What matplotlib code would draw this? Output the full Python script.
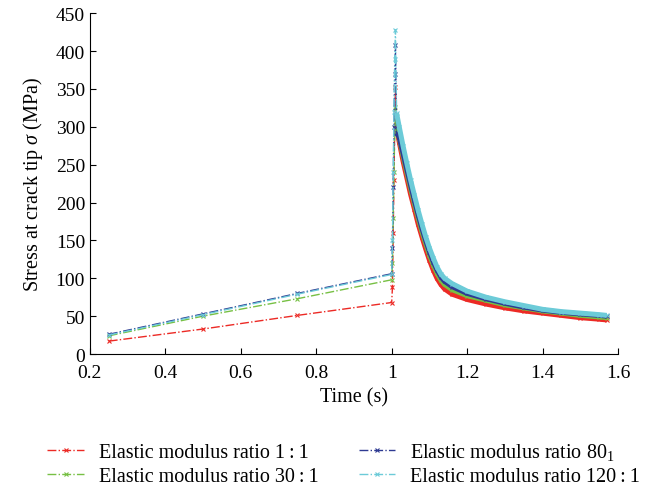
import matplotlib
matplotlib.use("Agg")
import matplotlib.pyplot as plt
from matplotlib.ticker import FormatStrFormatter

plt.rcParams["font.family"] = ["Liberation Serif", "DejaVu Serif"]
plt.rcParams["mathtext.fontset"] = "custom"
plt.rcParams["mathtext.rm"] = "Liberation Serif"
plt.rcParams["mathtext.it"] = "Liberation Serif:italic"

# time samples (s): loading ramp, sudden rise, then decay
time = [0.25, 0.5, 0.75, 1.0,
        1.002, 1.004, 1.006, 1.008, 1.010,
        1.013, 1.02, 1.03, 1.04, 1.05, 1.06, 1.07, 1.08, 1.09, 1.10,
        1.11, 1.12, 1.13, 1.14, 1.16, 1.20, 1.25, 1.30, 1.35, 1.40,
        1.45, 1.50, 1.55, 1.57]

ratio_1 = [17, 33, 51, 68,
           88, 160, 230, 300, 352,
           298, 280, 255, 233, 211, 192, 172, 155, 139, 124,
           111, 100, 92, 86, 79, 72, 66, 61, 57, 54,
           51, 48, 46, 45]
ratio_30 = [24, 50, 73, 98,
            120, 180, 240, 290, 326,
            298, 285, 262, 240, 219, 199, 180, 162, 146, 131,
            118, 107, 98, 92, 85, 77, 71, 65, 61, 57,
            54, 51, 49, 48]
ratio_80 = [26, 53, 80, 106,
            140, 220, 300, 370, 408,
            292, 286, 265, 244, 223, 203, 184, 166, 150, 135,
            122, 111, 102, 96, 89, 80, 73, 67, 62, 58,
            55, 53, 51, 50]
ratio_120 = [25, 52, 79, 105,
             150, 240, 320, 390, 428,
             318, 300, 275, 252, 230, 210, 190, 172, 155, 140,
             127, 115, 106, 100, 93, 83, 75, 69, 64, 59,
             56, 54, 52, 51]

labels = ["Elastic modulus ratio 1\u2009:\u20091",
          "Elastic modulus ratio 30\u2009:\u20091",
          "Elastic modulus ratio 80$_1$",
          "Elastic modulus ratio 120\u2009:\u20091"]
colors = ["#ec2a25", "#77c044", "#2e3a92", "#6ccbd8"]
series = [ratio_1, ratio_30, ratio_80, ratio_120]

fig = plt.figure(figsize=(6.61, 4.89), dpi=100)
ax = fig.add_axes([0.136, 0.274, 0.799, 0.697])

decay_start = 9
handles = []
for vals, col, lab in zip(series, colors, labels):
    h, = ax.plot(time, vals, linestyle="-.", marker="x", markersize=3,
                 markeredgewidth=0.8, linewidth=1, color=col, label=lab)
    # the decay phase is densely sampled in the source -> solid band
    ax.plot(time[decay_start:], vals[decay_start:], "-", linewidth=3.6,
            color=col, solid_capstyle="butt")
    handles.append(h)

ax.set_xlim(0.2, 1.6)
ax.set_ylim(0, 450)
ax.set_xticks([0.2, 0.4, 0.6, 0.8, 1.0, 1.2, 1.4, 1.6])
ax.set_yticks(range(0, 451, 50))
ax.xaxis.set_major_formatter(FormatStrFormatter("%g"))
ax.tick_params(direction="in", labelsize=14, length=4, width=0.8)
ax.tick_params(axis="x", pad=7)
ax.spines["top"].set_visible(False)
ax.spines["right"].set_visible(False)
ax.set_xlabel("Time (s)", fontsize=14.5, labelpad=5)
ax.set_ylabel("Stress at crack tip $\\mathit{\\sigma}$ (MPa)", fontsize=14.5,
              labelpad=8)

fig.legend(handles=handles, labels=labels, loc="center",
           bbox_to_anchor=(0.52, 0.05), ncol=2, frameon=False,
           fontsize=14.5, handlelength=1.8, handletextpad=0.75,
           columnspacing=2.0, labelspacing=0.2)

fig.savefig("out.png", dpi=100)
